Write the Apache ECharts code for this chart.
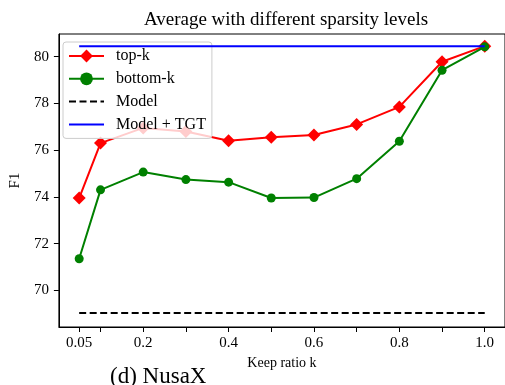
<!DOCTYPE html>
<html>
<head>
<meta charset="utf-8">
<script src="https://cdn.jsdelivr.net/npm/echarts@6/dist/echarts.min.js"></script>
<style>
  html, body { margin: 0; padding: 0; background: #fff; }
  #chart { width: 505px; height: 385px; }
</style>
</head>
<body>
<div id="chart"></div>
<script>
// keep ratio k
var ratios = [0.05, 0.1, 0.2, 0.3, 0.4, 0.5, 0.6, 0.7, 0.8, 0.9, 1.0];
var topK = [73.95, 76.3, 76.95, 76.8, 76.4, 76.55, 76.65, 77.1, 77.85, 79.78, 80.45];
var bottomK = [71.35, 74.3, 75.06, 74.74, 74.63, 73.95, 73.97, 74.78, 76.38, 79.42, 80.42];
var modelF1 = 69.03;
var modelTgtF1 = 80.45;
var xTicks = [0.05, 0.1, 0.2, 0.3, 0.4, 0.5, 0.6, 0.7, 0.8, 0.9, 1.0];
var xLabels = [0.05, 0.2, 0.4, 0.6, 0.8, 1.0];
var yTicks = [70, 72, 74, 76, 78, 80];

var FONT = '"Liberation Serif", "DejaVu Serif", serif';

function pairs(ys) {
  return ratios.map(function (x, i) { return [x, ys[i]]; });
}
function flat(v) {
  return [[ratios[0], v], [ratios[ratios.length - 1], v]];
}

var chart = echarts.init(document.getElementById('chart'));
var option = {
  backgroundColor: '#fff',
  animation: false,
  textStyle: { fontFamily: FONT, color: '#000' },
  title: {
    text: 'Average with different sparsity levels',
    left: 281,
    top: 6,
    textAlign: 'center',
    textStyle: { fontFamily: FONT, fontSize: 19, fontWeight: 'normal', color: '#000' }
  },
  grid: {
    left: 55, top: 34, width: 451, height: 293,
    show: true, borderColor: '#000', borderWidth: 1
  },
  legend: {
    orient: 'vertical',
    left: 63, top: 42,
    padding: [6, 6, 6, 5],
    itemWidth: 35, itemHeight: 16, itemGap: 6.8,
    backgroundColor: 'rgba(255,255,255,0.8)',
    borderColor: '#ccc', borderWidth: 1, borderRadius: 3,
    textStyle: { fontFamily: FONT, fontSize: 16, color: '#000', padding: [0, 0, 0, 7] },
    data: [
      { name: 'top-k' },
      { name: 'bottom-k' },
      { name: 'Model', itemStyle: { opacity: 0 } },
      { name: 'Model + TGT', itemStyle: { opacity: 0 } }
    ]
  },
  xAxis: {
    type: 'value',
    min: 0.0025, max: 1.0475,
    name: 'Keep ratio k',
    nameLocation: 'middle',
    nameGap: 22,
    nameTextStyle: { fontFamily: FONT, fontSize: 14, color: '#000' },
    splitLine: { show: false },
    axisLine: { show: true, lineStyle: { color: '#000', width: 1 } },
    axisTick: { show: true, length: 5, customValues: xTicks, lineStyle: { color: '#000' } },
    axisLabel: {
      customValues: xLabels, margin: 9,
      fontFamily: FONT, fontSize: 15, color: '#000',
      formatter: function (v) { return v < 0.1 ? '0.05' : v.toFixed(1); }
    }
  },
  yAxis: {
    type: 'value',
    min: 68.43, max: 80.97,
    name: 'F1',
    nameLocation: 'middle',
    nameGap: 33,
    nameRotate: 90,
    nameTextStyle: { fontFamily: FONT, fontSize: 15, color: '#000' },
    splitLine: { show: false },
    axisLine: { show: true, lineStyle: { color: '#000', width: 1 } },
    axisTick: { show: true, length: 5, customValues: yTicks, lineStyle: { color: '#000' } },
    axisLabel: {
      customValues: yTicks, margin: 10,
      fontFamily: FONT, fontSize: 15, color: '#000'
    }
  },
  graphic: [{
    type: 'text',
    left: 110, top: 365,
    style: { text: '(d) NusaX', font: '23px ' + FONT, fill: '#000' }
  }],
  series: [
    {
      name: 'top-k', type: 'line', data: pairs(topK), z: 2,
      symbol: 'diamond', symbolSize: 13, showAllSymbol: true,
      lineStyle: { color: '#ff0000', width: 2 },
      itemStyle: { color: '#ff0000' }
    },
    {
      name: 'bottom-k', type: 'line', data: pairs(bottomK), z: 3,
      symbol: 'circle', symbolSize: 9, showAllSymbol: true,
      lineStyle: { color: '#008000', width: 2 },
      itemStyle: { color: '#008000' }
    },
    {
      name: 'Model', type: 'line', data: flat(modelF1), z: 4,
      symbol: 'none',
      lineStyle: { color: '#000', width: 2, type: [7, 3.5] },
      itemStyle: { color: '#000' }
    },
    {
      name: 'Model + TGT', type: 'line', data: flat(modelTgtF1), z: 4,
      symbol: 'none',
      lineStyle: { color: '#0000ff', width: 2 },
      itemStyle: { color: '#0000ff' }
    }
  ]
};
chart.setOption(option);
</script>
</body>
</html>
